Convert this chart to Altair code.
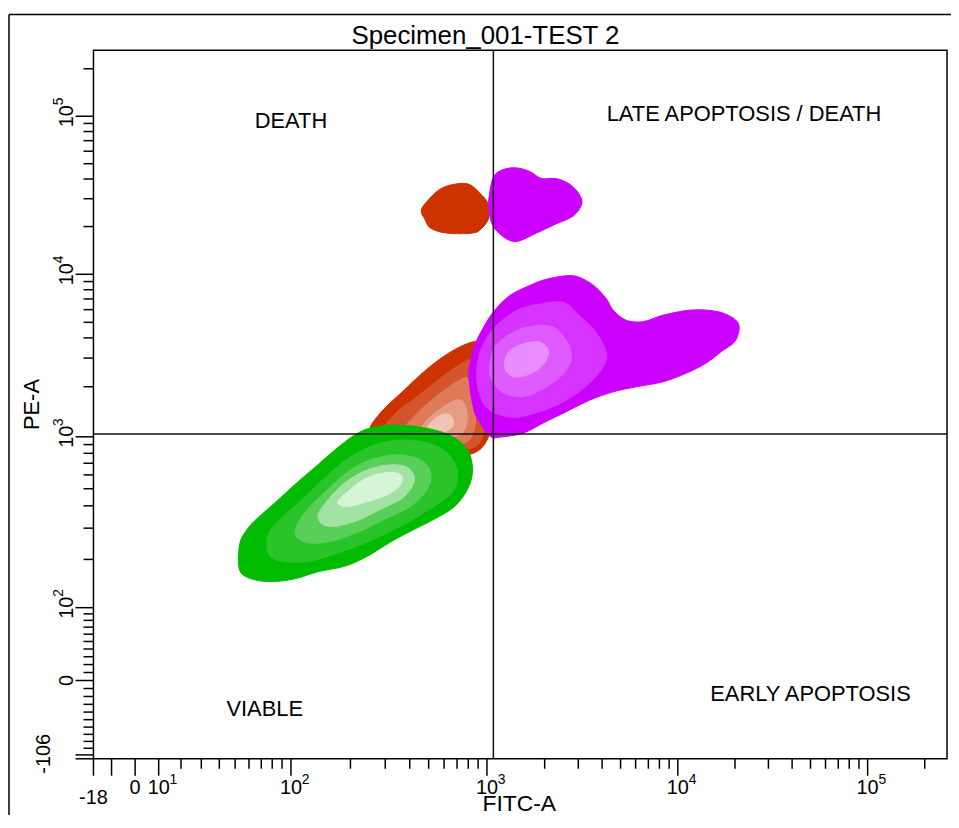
import numpy as np
import pandas as pd
import altair as alt

# ---------------- axis definition (BD-style biexponential / logicle) ----------------
T_TOP = 262144.0          # top of scale
DECADES = 4.5             # M
X_AXIS_MIN = -18.0        # labelled minimum of FITC-A axis
Y_AXIS_MIN = -106.0       # labelled minimum of PE-A axis

TITLE = "Specimen_001-TEST 2"

# ---------------- tick values ----------------
X_MAJOR = [-18, -10, 0, 10, 100, 1000, 10000, 100000]
X_MINOR = [20, 30, 40, 50, 60, 70, 80, 90,
           200, 300, 400, 500, 600, 700, 800, 900,
           2000, 3000, 4000, 5000, 6000, 7000, 8000, 9000,
           20000, 30000, 40000, 50000, 60000, 70000, 80000, 90000, 200000]
Y_MAJOR = [-106, -100, 0, 100, 1000, 10000, 100000]
Y_MINOR = [-90, -80, -70, -60, -50, -40, -30, -20, -10,
           10, 20, 30, 40, 50, 60, 70, 80, 90,
           200, 300, 400, 500, 600, 700, 800, 900,
           2000, 3000, 4000, 5000, 6000, 7000, 8000, 9000,
           20000, 30000, 40000, 50000, 60000, 70000, 80000, 90000, 200000]

X_POW_VALUES = [10, 100, 1000, 10000, 100000]
X_POW_EXP = ["1", "2", "3", "4", "5"]
X_NUM_VALUES = [0]
X_NUM_LABELS = ["0"]
X_MIN_LABEL = "-18"

Y_POW_VALUES = [100, 1000, 10000, 100000]
Y_POW_EXP = ["2", "3", "4", "5"]
Y_NUM_VALUES = [0]
Y_NUM_LABELS = ["0"]
Y_MIN_LABEL = "-106"

# quadrant gates (FITC-A, PE-A)
GATE_FITC = 1080
GATE_PE = 1040

# quadrant labels in data units
QUAD_TEXT = ["DEATH", "LATE APOPTOSIS / DEATH", "VIABLE", "EARLY APOPTOSIS"]
QUAD_FITC = [100, 22300, 73, 50000]
QUAD_PE = [93000, 104000, -36, -17]

# ---------------- density contours (biexponential display units, 0-1000) ----------------
RED_TOP = [(384, 774), (391, 787), (406, 804), (423, 811), (440, 811), (453, 798), (462, 784),
           (463, 763), (455, 749), (444, 742), (414, 742), (395, 749), (388, 762)]
MAG_TOP = [(469, 822), (481, 832), (496, 834), (511, 829), (525, 819), (542, 819), (558, 811),
           (569, 797), (572, 783), (562, 766), (542, 755), (519, 742), (499, 731), (487, 732),
           (475, 742), (467, 755), (463, 777), (464, 797)]
MAG_1 = [(441, 525), (440, 548), (446, 581), (457, 609), (470, 633), (488, 654), (511, 668),
         (531, 677), (558, 682), (574, 677), (589, 665), (601, 649), (609, 633), (624, 619),
         (644, 617), (667, 626), (697, 633), (721, 633), (742, 627), (756, 613), (752, 590),
         (737, 576), (717, 558), (694, 544), (667, 532), (636, 525), (609, 518), (581, 506),
         (554, 490), (527, 474), (504, 460), (476, 454), (464, 456), (449, 482), (444, 502)]
MAG_2 = [(449, 548), (455, 581), (470, 609), (496, 633), (523, 642), (551, 644), (569, 626),
         (589, 602), (601, 572), (597, 553), (581, 530), (554, 506), (523, 490), (492, 482),
         (464, 492), (452, 516)]
MAG_3 = [(464, 548), (470, 581), (492, 602), (516, 611), (539, 609), (554, 590), (560, 567),
         (551, 544), (531, 525), (504, 511), (481, 516), (469, 530)]
MAG_4 = [(482, 562), (488, 576), (504, 586), (523, 588), (533, 576), (528, 558), (513, 544),
         (494, 539), (483, 548)]
RED_1 = [(324, 467), (339, 492), (362, 518), (385, 544), (409, 567), (432, 583), (449, 589),
         (461, 583), (469, 562), (473, 527), (470, 492), (466, 464), (455, 439), (438, 429),
         (414, 429), (380, 436), (350, 447), (333, 457)]
RED_2 = [(339, 464), (356, 490), (380, 512), (403, 534), (426, 554), (444, 564), (454, 548),
         (459, 513), (460, 478), (454, 450), (444, 439), (420, 436), (380, 443), (354, 453)]
RED_3 = [(362, 461), (377, 485), (393, 503), (411, 520), (428, 534), (439, 537), (445, 518),
         (448, 488), (445, 460), (435, 446), (409, 442), (380, 447)]
RED_4 = [(382, 461), (393, 481), (409, 496), (424, 506), (434, 503), (438, 482), (433, 461),
         (414, 453), (393, 453)]
RED_5 = [(391, 467), (400, 480), (412, 487), (420, 482), (421, 470), (411, 461), (398, 461)]
GREEN_1 = [(170, 286), (173, 310), (185, 331), (201, 349), (217, 366), (236, 387), (260, 412),
           (283, 436), (306, 457), (325, 467), (353, 471), (383, 468), (411, 460), (430, 447),
           (441, 429), (444, 404), (438, 380), (423, 356), (399, 338), (376, 324), (348, 306),
           (321, 286), (295, 272), (263, 264), (236, 254), (208, 250), (185, 254), (172, 264)]
GREEN_2 = [(203, 306), (208, 324), (225, 345), (248, 370), (275, 401), (301, 426), (329, 443),
           (360, 450), (391, 446), (414, 432), (426, 408), (423, 380), (406, 362), (380, 342),
           (353, 324), (321, 306), (290, 292), (255, 279), (225, 278), (207, 286)]
GREEN_3 = [(236, 320), (248, 348), (271, 376), (298, 405), (325, 422), (356, 429), (383, 422),
           (395, 404), (391, 380), (371, 356), (341, 338), (310, 320), (275, 306), (248, 306)]
GREEN_4 = [(263, 342), (275, 366), (295, 390), (321, 408), (348, 415), (368, 411), (376, 394),
           (364, 370), (336, 352), (306, 335), (275, 328)]
GREEN_5 = [(286, 362), (301, 380), (321, 397), (345, 404), (360, 401), (360, 387), (345, 373),
           (321, 363), (298, 356)]

RED_COLORS = ["#cc3300", "#d4552b", "#de7a5a", "#e89c84", "#f0c4b4"]
GREEN_COLORS = ["#00bb00", "#2ac42a", "#58cf58", "#a2e2a2", "#d6f4d6"]
MAG_COLORS = ["#cc00ff", "#d633ff", "#de5cff", "#e88cff"]

CONTOURS = [
    (RED_1, RED_COLORS[0]), (RED_2, RED_COLORS[1]), (RED_3, RED_COLORS[2]),
    (RED_4, RED_COLORS[3]), (RED_5, RED_COLORS[4]), (RED_TOP, RED_COLORS[0]),
    (GREEN_1, GREEN_COLORS[0]), (GREEN_2, GREEN_COLORS[1]), (GREEN_3, GREEN_COLORS[2]),
    (GREEN_4, GREEN_COLORS[3]), (GREEN_5, GREEN_COLORS[4]),
    (MAG_1, MAG_COLORS[0]), (MAG_2, MAG_COLORS[1]), (MAG_3, MAG_COLORS[2]),
    (MAG_4, MAG_COLORS[3]), (MAG_TOP, MAG_COLORS[0]),
]


# ---------------- logicle transform ----------------
def logicle_params(W):
    w = W / DECADES
    x1, x0 = w, 2 * w
    b = DECADES * np.log(10)
    lo, hi = 1e-9, b
    for _ in range(200):
        mid = 0.5 * (lo + hi)
        if 2 * (np.log(mid) - np.log(b)) + w * (b + mid) > 0:
            hi = mid
        else:
            lo = mid
    d = 0.5 * (lo + hi)
    ca = np.exp(x0 * (b + d))
    fa = np.exp(b * x1) - ca / np.exp(d * x1)
    a = T_TOP / (np.exp(b) - fa - ca / np.exp(d))
    return (a, b, ca * a, d, -fa * a)


def biex(y, p):
    a, b, c, d, f = p
    return a * np.exp(b * y) - c * np.exp(-d * y) + f


def fit_params(vmin):
    lo, hi = 0.01, 2.0
    for _ in range(100):
        mid = 0.5 * (lo + hi)
        if biex(0.0, logicle_params(mid)) > vmin:
            lo = mid
        else:
            hi = mid
    return logicle_params(0.5 * (lo + hi))


def to_display(v, p):
    v = np.atleast_1d(np.asarray(v, dtype=float))
    lo = np.full_like(v, -1.0)
    hi = np.full_like(v, 1.5)
    for _ in range(80):
        mid = 0.5 * (lo + hi)
        m = biex(mid, p) > v
        hi = np.where(m, mid, hi)
        lo = np.where(m, lo, mid)
    return 1000 * 0.5 * (lo + hi)


PX = fit_params(X_AXIS_MIN)
PY = fit_params(Y_AXIS_MIN)
X_DOMAIN = [float(to_display(X_AXIS_MIN, PX)[0]), float(to_display(T_TOP, PX)[0])]
Y_DOMAIN = [float(to_display(Y_AXIS_MIN, PY)[0]), float(to_display(T_TOP, PY)[0])]

W, H = 859, 713
FONT = "Liberation Sans, Arial, DejaVu Sans"
TICK_FS = 20
EXP_FS = 14

X = alt.X("x:Q", scale=alt.Scale(domain=X_DOMAIN, nice=False, zero=False),
          axis=alt.Axis(title="FITC-A", labels=False, ticks=False, domain=False, grid=False,
                        titleFont=FONT, titleFontSize=23, titleFontWeight="normal",
                        titleColor="black", titleX=428, titleY=52,
                        titleBaseline="alphabetic", titleAlign="center"))
Y = alt.Y("y:Q", scale=alt.Scale(domain=Y_DOMAIN, nice=False, zero=False),
          axis=alt.Axis(title="PE-A", labels=False, ticks=False, domain=False, grid=False,
                        titleFont=FONT, titleFontSize=22, titleFontWeight="normal",
                        titleColor="black", titleAngle=270, titleX=-55, titleY=356,
                        titleBaseline="alphabetic", titleAlign="center"))

layers = []

# contours
for k, (pts, col) in enumerate(CONTOURS):
    df = pd.DataFrame({"x": [p[0] for p in pts], "y": [p[1] for p in pts],
                       "i": list(range(len(pts)))})
    layers.append(
        alt.Chart(df).mark_line(interpolate="cardinal-closed", fill=col, stroke=col,
                                strokeWidth=1, fillOpacity=1)
        .encode(x=X, y=Y, order=alt.Order("i:Q"))
    )

# quadrant lines
gx = pd.DataFrame({"x": to_display([GATE_FITC], PX)})
gy = pd.DataFrame({"y": to_display([GATE_PE], PY)})
layers.append(alt.Chart(gx).mark_rule(color="#111111", strokeWidth=1.5)
              .encode(x=X, y=alt.value(0), y2=alt.value(H)))
layers.append(alt.Chart(gy).mark_rule(color="#111111", strokeWidth=1.5)
              .encode(y=Y, x=alt.value(0), x2=alt.value(W)))

# x ticks
xmaj = pd.DataFrame({"x": to_display(X_MAJOR, PX)})
xmin = pd.DataFrame({"x": to_display(X_MINOR, PX)})
layers.append(alt.Chart(xmaj).mark_rule(color="black", strokeWidth=1.5)
              .encode(x=X, y=alt.value(H), y2=alt.value(H + 17)))
layers.append(alt.Chart(xmin).mark_rule(color="black", strokeWidth=1.5)
              .encode(x=X, y=alt.value(H), y2=alt.value(H + 10)))
# y ticks
ymaj = pd.DataFrame({"y": to_display(Y_MAJOR, PY)})
ymin = pd.DataFrame({"y": to_display(Y_MINOR, PY)})
layers.append(alt.Chart(ymaj).mark_rule(color="black", strokeWidth=1.5)
              .encode(y=Y, x=alt.value(-18), x2=alt.value(0)))
layers.append(alt.Chart(ymin).mark_rule(color="black", strokeWidth=1.5)
              .encode(y=Y, x=alt.value(-10), x2=alt.value(0)))

# x tick labels: "10" base + raised exponent
xp = pd.DataFrame({"x": to_display(X_POW_VALUES, PX), "t": ["10"] * len(X_POW_VALUES),
                   "e": X_POW_EXP})
xn = pd.DataFrame({"x": to_display(X_NUM_VALUES, PX), "t": X_NUM_LABELS})
xm = pd.DataFrame({"x": to_display([X_AXIS_MIN], PX), "t": [X_MIN_LABEL]})
layers.append(alt.Chart(xp).mark_text(font=FONT, fontSize=TICK_FS, align="center",
                                      baseline="alphabetic", color="black")
              .encode(x=X, y=alt.value(H + 35), text="t:N"))
layers.append(alt.Chart(xp).mark_text(font=FONT, fontSize=EXP_FS, align="left",
                                      baseline="alphabetic", dx=11, dy=-10, color="black")
              .encode(x=X, y=alt.value(H + 35), text="e:N"))
layers.append(alt.Chart(xn).mark_text(font=FONT, fontSize=TICK_FS, align="center",
                                      baseline="alphabetic", color="black")
              .encode(x=X, y=alt.value(H + 35), text="t:N"))
layers.append(alt.Chart(xm).mark_text(font=FONT, fontSize=TICK_FS, align="center",
                                      baseline="alphabetic", color="black")
              .encode(x=X, y=alt.value(H + 46), text="t:N"))

# y tick labels (rotated): "10" base + raised exponent
yp = pd.DataFrame({"y": to_display(Y_POW_VALUES, PY), "t": ["10"] * len(Y_POW_VALUES),
                   "e": Y_POW_EXP})
yn = pd.DataFrame({"y": to_display(Y_NUM_VALUES, PY), "t": Y_NUM_LABELS})
ym = pd.DataFrame({"y": to_display([Y_AXIS_MIN], PY), "t": [Y_MIN_LABEL]})
layers.append(alt.Chart(yp).mark_text(font=FONT, fontSize=TICK_FS, align="center",
                                      baseline="alphabetic", angle=270, color="black")
              .encode(y=Y, x=alt.value(-21), text="t:N"))
layers.append(alt.Chart(yp).mark_text(font=FONT, fontSize=EXP_FS, align="left",
                                      baseline="alphabetic", angle=270, dx=11, dy=-10,
                                      color="black")
              .encode(y=Y, x=alt.value(-21), text="e:N"))
layers.append(alt.Chart(yn).mark_text(font=FONT, fontSize=TICK_FS, align="center",
                                      baseline="alphabetic", angle=270, color="black")
              .encode(y=Y, x=alt.value(-21), text="t:N"))
layers.append(alt.Chart(ym).mark_text(font=FONT, fontSize=TICK_FS, align="center",
                                      baseline="alphabetic", angle=270, dx=5, color="black")
              .encode(y=Y, x=alt.value(-44), text="t:N"))

# quadrant labels
qd = pd.DataFrame({"x": to_display(QUAD_FITC, PX), "y": to_display(QUAD_PE, PY), "t": QUAD_TEXT})
layers.append(alt.Chart(qd).mark_text(font=FONT, fontSize=22, align="center", baseline="middle",
                                      color="black")
              .encode(x=X, y=Y, text="t:N"))

# specimen title (above the plot frame, slightly left of centre as in the original)
layers.append(alt.Chart(pd.DataFrame({"t": [TITLE]})).mark_text(
    font=FONT, fontSize=26, align="center", baseline="alphabetic", color="black")
    .encode(x=alt.value(W / 2 - 35), y=alt.value(-6), text="t:N"))

# outer frame (figure border)
layers.append(alt.Chart(pd.DataFrame({"k": [0]})).mark_rule(color="black", strokeWidth=1.5)
              .encode(x=alt.value(-85), y=alt.value(-36), y2=alt.value(H + 80)))
layers.append(alt.Chart(pd.DataFrame({"k": [0]})).mark_rule(color="black", strokeWidth=1.5)
              .encode(x=alt.value(-85), x2=alt.value(W + 40), y=alt.value(-36)))

chart = alt.layer(*layers).properties(
    width=W, height=H,
    autosize=alt.AutoSizeParams(type="none"),
    padding={"left": 86, "top": 40, "right": 4, "bottom": 54},
    background="white",
).configure_view(stroke="black", strokeWidth=1.5)

chart.save("out.html", embed_options={"renderer": "svg", "actions": False})
